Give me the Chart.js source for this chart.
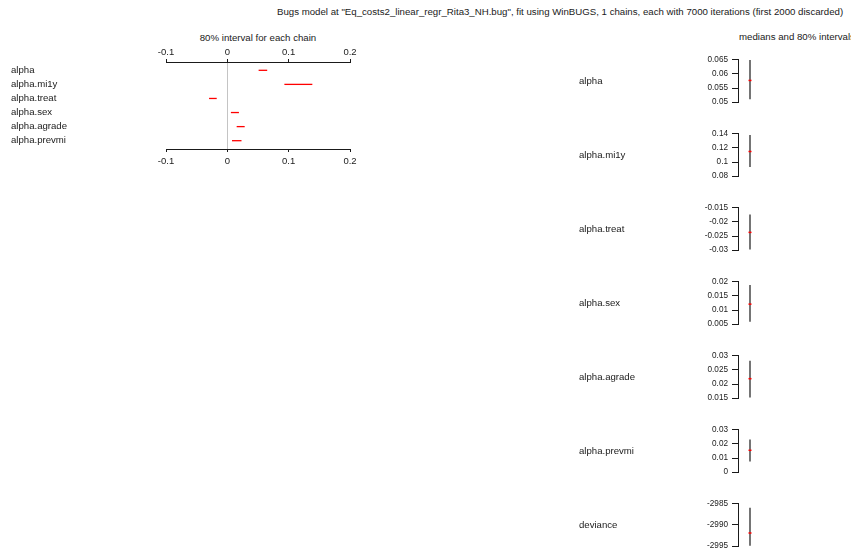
<!DOCTYPE html>
<html>
<head>
<meta charset="utf-8">
<script src="https://cdn.jsdelivr.net/npm/chart.js@4.4.1/dist/chart.umd.min.js"></script>
<style>
  html, body { margin: 0; padding: 0; background: #fff; }
  body { width: 851px; height: 555px; position: relative; overflow: hidden;
         font-family: "Liberation Sans", Arial, sans-serif; color: #1a1a1a; }
  .txt { position: absolute; white-space: nowrap; font-size: 9.66px; line-height: 12px; }
  canvas { position: absolute; }
</style>
</head>
<body>
<div class="txt" style="left:277px; top:6px;">Bugs model at "Eq_costs2_linear_regr_Rita3_NH.bug", fit using WinBUGS, 1 chains, each with 7000 iterations (first 2000 discarded)</div>
<div class="txt" style="left:158px; width:200px; text-align:center; top:32px;">80% interval for each chain</div>
<div class="txt" style="left:739px; top:31px;">medians and 80% intervals</div>
<canvas id="chains" width="380" height="130" style="left:0; top:40px;"></canvas>
<div id="panels"></div>

<script>
// Posterior summaries per monitored node
const paramNames = ['alpha', 'alpha.mi1y', 'alpha.treat', 'alpha.sex', 'alpha.agrade', 'alpha.prevmi', 'deviance'];
const lower80 = [0.0510, 0.0930, -0.0298, 0.0058, 0.0152, 0.0076, -2994.9];
const median  = [0.0577, 0.1150, -0.0237, 0.0121, 0.0219, 0.0155, -2991.9];
const upper80 = [0.0650, 0.1386, -0.0173, 0.0189, 0.0283, 0.0231, -2985.9];

// Axis ranges of the per-node panels
const panelMin  = [0.05, 0.08, -0.03, 0.005, 0.015, 0, -2995];
const panelMax  = [0.065, 0.14, -0.015, 0.02, 0.03, 0.03, -2985];
const panelStep = [0.005, 0.02, 0.005, 0.005, 0.005, 0.01, 5];

// Chain-interval axis
const chainMin = -0.1;
const chainMax = 0.2;
const chainStep = 0.1;
const chainNodes = paramNames.slice(0, 6);

const FONT = 'Liberation Sans';
const INK = '#1a1a1a';
const fmt = v => String(parseFloat(Number(v).toFixed(6)));
const noPlugins = { legend: { display: false }, tooltip: { enabled: false } };

// ---- 80% interval for each chain ----
const chainAxis = (pos, h, pad) => ({
  type: 'linear', position: pos, min: chainMin, max: chainMax,
  grid: {
    drawOnChartArea: pos === 'bottom',
    color: c => (c.tick && Math.abs(c.tick.value) < 1e-9) ? '#c4c4c4' : 'rgba(0,0,0,0)',
    tickColor: INK, tickLength: 3, lineWidth: 1
  },
  border: { display: true, color: INK, width: 1 },
  ticks: { stepSize: chainStep, padding: pad, color: INK, font: { family: FONT, size: 9.5 }, callback: fmt },
  afterFit: s => { s.height = h; }
});

new Chart(document.getElementById('chains'), {
  type: 'line',
  data: {
    datasets: chainNodes.map((n, i) => ({
      label: n,
      xAxisID: 'x', yAxisID: 'y',
      data: [{ x: lower80[i], y: i }, { x: upper80[i], y: i }],
      borderColor: '#ff0000', borderWidth: 1.3, pointRadius: 0
    }))
  },
  options: {
    responsive: false, animation: false, events: [],
    layout: { padding: { left: 11, right: 30, top: 0, bottom: 0 } },
    plugins: noPlugins,
    scales: {
      y: {
        type: 'linear', position: 'left', reverse: true, min: -0.59, max: 5.59,
        grid: { display: false }, border: { display: false },
        ticks: { stepSize: 1, includeBounds: false, autoSkip: false, crossAlign: 'far', padding: 0,
                 color: INK, font: { family: FONT, size: 9.6 },
                 callback: v => chainNodes[v] !== undefined ? chainNodes[v] : '' },
        afterFit: s => { s.width = 155; }
      },
      xTop: chainAxis('top', 22, 1),
      x: chainAxis('bottom', 21, 4)
    }
  }
});

// ---- medians and 80% intervals, one small panel per node ----
const host = document.getElementById('panels');
paramNames.forEach((name, i) => {
  const cv = document.createElement('canvas');
  cv.width = 220; cv.height = 60;
  cv.style.left = '560px';
  cv.style.top = (51 + 74 * i) + 'px';
  host.appendChild(cv);
  new Chart(cv, {
    type: 'line',
    data: {
      datasets: [
        { xAxisID: 'x', yAxisID: 'y', showLine: false,
          data: [{ x: 0.5, y: median[i] }],
          pointStyle: 'line', pointRadius: 1.5, pointBorderWidth: 1.5,
          borderColor: '#ff0000', backgroundColor: '#ff0000' },
        { xAxisID: 'x', yAxisID: 'y',
          data: [{ x: 0.5, y: lower80[i] }, { x: 0.5, y: upper80[i] }],
          borderColor: '#3a3a3a', borderWidth: 1.4, pointRadius: 0 }
      ]
    },
    options: {
      responsive: false, animation: false, events: [],
      layout: { padding: { left: 19, right: 18, top: 8, bottom: 8 } },
      plugins: noPlugins,
      scales: {
        x: { type: 'linear', display: false, min: 0, max: 1 },
        y: {
          type: 'linear', position: 'left', weight: 0, min: panelMin[i], max: panelMax[i],
          grid: { drawOnChartArea: false, tickColor: INK, tickLength: 6 },
          border: { display: true, color: INK, width: 1 },
          ticks: { stepSize: panelStep[i], padding: 4, color: INK, font: { family: FONT, size: 8.2 }, callback: fmt },
          afterFit: s => { s.width = 50; }
        },
        name: {
          type: 'category', position: 'left', weight: 1, labels: [name], offset: true,
          grid: { display: false }, border: { display: false },
          ticks: { crossAlign: 'far', padding: 0, color: INK, font: { family: FONT, size: 9.6 } },
          afterFit: s => { s.width = 109; }
        }
      }
    }
  });
});
</script>
</body>
</html>
